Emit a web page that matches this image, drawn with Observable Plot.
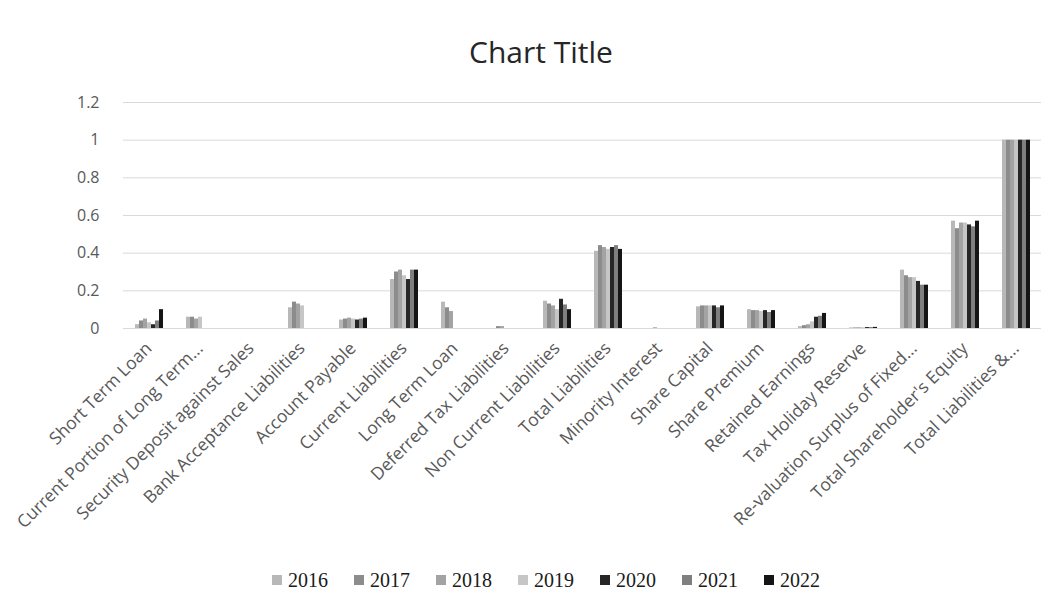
<!DOCTYPE html>
<html>
<head>
<meta charset="utf-8">
<script src="https://cdn.jsdelivr.net/npm/d3@7"></script>
<script src="https://cdn.jsdelivr.net/npm/@observablehq/plot@0.6"></script>
<style>
  body { margin: 0; background: #fff; }
  #chart { width: 1054px; font-family: "Open Sans", sans-serif; }
  .title {
    height: 80px; box-sizing: border-box; padding-top: 34px; padding-left: 28px;
    text-align: center; font-size: 30px; line-height: 36px; color: #262626;
  }
  .legend {
    height: 60px; display: flex; align-items: center; justify-content: center;
    gap: 26px; padding-left: 38px; box-sizing: border-box;
    font-family: "Liberation Serif", "DejaVu Serif", serif; font-size: 20px; color: #1a1a1a;
  }
  .legend .item { display: flex; align-items: center; gap: 6px; }
  .legend .sw { width: 10px; height: 10px; display: inline-block; }
</style>
</head>
<body>
<div id="chart">
  <div class="title">Chart Title</div>
  <div id="plot"></div>
  <div class="legend" id="legend"></div>
</div>
<script>
// Balance-sheet items (share of total liabilities & equity)
const categories = [
  "Short Term Loan",
  "Current Portion of Long Term...",
  "Security Deposit against Sales",
  "Bank Acceptance Liabilities",
  "Account Payable",
  "Current Liabilities",
  "Long Term Loan",
  "Deferred Tax Liabilities",
  "Non Current Liabilities",
  "Total Liabilities",
  "Minority Interest",
  "Share Capital",
  "Share Premium",
  "Retained Earnings",
  "Tax Holiday Reserve",
  "Re-valuation Surplus of Fixed...",
  "Total Shareholder's Equity",
  "Total Liabilities &..."
];

const years = ["2016", "2017", "2018", "2019", "2020", "2021", "2022"];

// One series per year, in category order
const v2016 = [0.02, 0.06, 0, 0.11, 0.045, 0.26, 0.14, 0, 0.145, 0.41, 0, 0.115, 0.10, 0.01, 0.003, 0.31, 0.57, 1];
const v2017 = [0.04, 0.06, 0, 0.14, 0.050, 0.30, 0.11, 0.01, 0.13, 0.44, 0, 0.12, 0.095, 0.015, 0.003, 0.28, 0.53, 1];
const v2018 = [0.05, 0.05, 0, 0.13, 0.055, 0.31, 0.09, 0.01, 0.12, 0.43, 0.004, 0.12, 0.095, 0.02, 0.004, 0.27, 0.56, 1];
const v2019 = [0.03, 0.06, 0, 0.12, 0.050, 0.28, 0, 0, 0.10, 0.42, 0, 0.12, 0.09, 0.035, 0.004, 0.27, 0.56, 1];
const v2020 = [0.02, 0, 0, 0, 0.045, 0.26, 0, 0, 0.155, 0.43, 0, 0.12, 0.095, 0.06, 0.005, 0.25, 0.55, 1];
const v2021 = [0.04, 0, 0, 0, 0.050, 0.31, 0, 0, 0.125, 0.44, 0, 0.11, 0.085, 0.065, 0.005, 0.23, 0.54, 1];
const v2022 = [0.10, 0, 0, 0, 0.055, 0.31, 0, 0, 0.10, 0.42, 0, 0.12, 0.095, 0.08, 0.006, 0.23, 0.57, 1];

const yTicks = [0, 0.2, 0.4, 0.6, 0.8, 1, 1.2];
const colors = ["#b8b8b8", "#8c8c8c", "#a3a3a3", "#c6c6c6", "#262626", "#7f7f7f", "#151515"];

const series = [v2016, v2017, v2018, v2019, v2020, v2021, v2022];
const data = categories.flatMap((category, i) =>
  years.map((year, j) => ({category, year, value: series[j][i]}))
);

const chart = Plot.plot({
  width: 1054,
  height: 470,
  marginTop: 22,
  marginBottom: 222,
  marginLeft: 120,
  marginRight: 11,
  style: {fontFamily: "'Open Sans', sans-serif", fontSize: "16px", color: "#595959", background: "#fff"},
  fx: {domain: categories, padding: 0, label: null, tickSize: 0, tickPadding: 15, tickRotate: -45},
  x: {domain: years, paddingInner: 0.1, paddingOuter: 1.85, axis: null},
  y: {domain: [0, 1.2], axis: null},
  color: {domain: years, range: colors},
  marks: [
    Plot.gridY(yTicks, {stroke: "#d9d9d9", strokeOpacity: 1}),
    Plot.axisY(yTicks, {anchor: "left", tickSize: 0, tickPadding: 24, tickFormat: d => String(d), label: null}),
    Plot.axisFx({anchor: "bottom", tickSize: 0, tickPadding: 17, tickRotate: -45, label: null, fontSize: 17.5}),
    Plot.barY(data, {fx: "category", x: "year", y: "value", fill: "year"})
  ]
});
document.getElementById("plot").appendChild(chart);

// Legend built from the same year/colour arrays
const legend = document.getElementById("legend");
years.forEach((year, j) => {
  const item = document.createElement("span");
  item.className = "item";
  const sw = document.createElement("span");
  sw.className = "sw";
  sw.style.background = colors[j];
  const label = document.createElement("span");
  label.textContent = year;
  item.appendChild(sw);
  item.appendChild(label);
  legend.appendChild(item);
});
</script>
</body>
</html>
